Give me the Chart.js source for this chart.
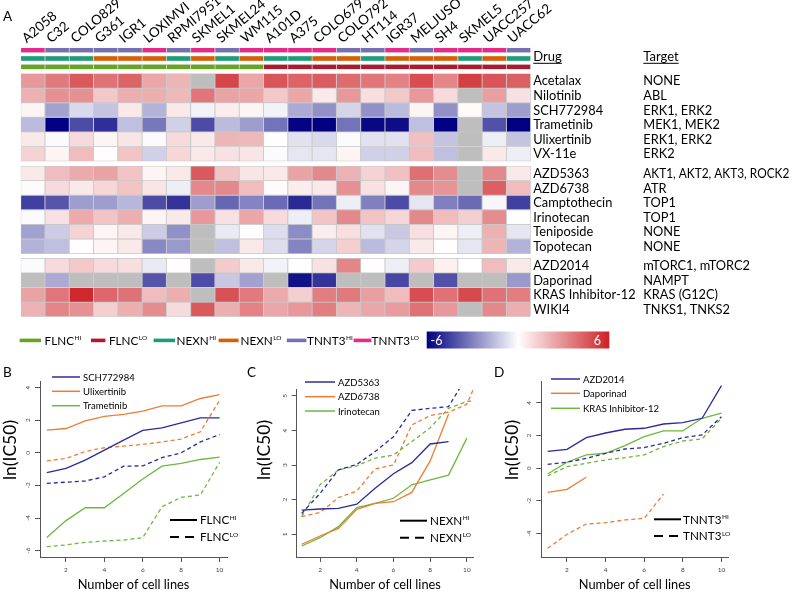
<!DOCTYPE html>
<html><head><meta charset="utf-8">
<script src="https://cdn.jsdelivr.net/npm/chart.js@4.4.1/dist/chart.umd.min.js"></script>
<style>
html,body{margin:0;padding:0;background:#fff;}
#wrap{position:relative;width:794px;height:592px;overflow:hidden;background:#fff;}
#wrap canvas{position:absolute;left:0;top:0;}
</style></head><body>
<div id="wrap">
<canvas id="heat" width="794" height="592"></canvas>
<canvas id="pb" width="794" height="592"></canvas>
<canvas id="pc" width="794" height="592"></canvas>
<canvas id="pd" width="794" height="592"></canvas>
</div>
<script>
// ---------------- DATA ----------------
const cellLines = ['A2058','C32','COLO829','G361','IGR1','LOXIMVI','RPMI7951','SKMEL1','SKMEL24','WM115','A101D','A375','COLO679','COLO792','HT114','IGR37','MELJUSO','SH4','SKMEL5','UACC257','UACC62'];
const tnnt3Status = ['LO','HI','HI','HI','HI','LO','HI','LO','HI','LO','LO','LO','LO','HI','HI','LO','HI','LO','LO','LO','HI'];
const nexnStatus  = ['HI','HI','HI','LO','LO','LO','HI','LO','HI','LO','HI','HI','LO','LO','HI','LO','LO','LO','HI','LO','HI'];
const flncStatus  = ['HI','HI','HI','HI','HI','HI','HI','HI','HI','HI','LO','LO','LO','LO','LO','LO','LO','LO','LO','LO','LO'];

const drugs = ['Acetalax','Nilotinib','SCH772984','Trametinib','Ulixertinib','VX-11e','AZD5363','AZD6738','Camptothecin','Irinotecan','Teniposide','Topotecan','AZD2014','Daporinad','KRAS Inhibitor-12','WIKI4'];
const targets = ['NONE','ABL','ERK1, ERK2','MEK1, MEK2','ERK1, ERK2','ERK2','AKT1, AKT2, AKT3, ROCK2','ATR','TOP1','TOP1','NONE','NONE','mTORC1, mTORC2','NAMPT','KRAS (G12C)','TNKS1, TNKS2'];

// heatmap values (ln IC50 scaled, -6..6), null = not available
const acetalax     = [2.8,3.6,4.5,3.8,4.2,2.4,2.0,null,5.0,2.4,4.6,4.2,4.4,4.0,3.7,3.4,4.8,3.3,5.2,4.6,4.3];
const nilotinib    = [2.1,3.0,3.0,1.5,2.2,2.2,1.9,3.7,2.5,2.4,1.5,2.4,0.6,2.8,0.9,1.5,2.8,1.0,null,2.6,0.8];
const sch772984    = [0.3,-2.2,-0.9,-1.4,0.6,-1.8,0.6,-0.3,0.5,0.3,-0.3,-2.0,-2.6,-1.0,-2.6,-1.6,0.3,-2.6,0.1,-1.4,-2.3];
const trametinib   = [-1.6,-6,-4.2,-4.9,-1.5,-3.2,-1.1,-4.2,-1.6,-2.3,-3.3,-5.9,-6,-3.3,-5.8,-5.7,-1.5,-6,null,-4.1,-6];
const ulixertinib  = [0.6,-0.1,1.0,0.3,0.7,-0.1,1.0,0.6,2.0,1.9,0.0,-0.7,-0.9,-0.1,-0.7,-0.7,1.7,-1.4,null,-0.4,-1.4];
const vx11e        = [1.2,0.3,1.8,0.05,1.6,-1.1,1.1,0.6,0.8,0.7,-0.1,-0.6,-0.6,0.3,-1.1,-1.1,1.8,-1.5,null,0.6,-0.4];
const azd5363      = [0.6,1.8,2.3,2.5,1.6,0.3,0.6,4.5,1.6,0.7,0.6,2.5,3.2,2.1,1.2,1.7,3.9,3.1,null,3.2,0.6];
const azd6738      = [0.1,1.0,0.6,1.1,1.6,0.7,-0.4,3.2,3.2,1.8,0.1,0.5,0.6,3.0,0.8,0.3,3.2,2.9,null,4.3,1.8];
const camptothecin = [-4.5,-4.0,-2.3,-2.3,-1.7,-4.2,-4.8,-2.3,-3.6,-2.9,-3.5,-5.0,-3.3,-0.4,-3.0,-4.2,-0.6,-3.0,-3.5,-0.2,-4.5];
const irinotecan   = [-0.1,0.8,2.3,1.6,2.2,0.3,0.6,2.8,0.8,2.4,1.0,-0.4,1.6,3.2,1.6,1.1,3.2,1.8,1.3,3.1,0.0];
const teniposide   = [-2.2,-1.2,1.2,0.3,0.6,-1.2,-2.6,null,-0.5,-0.05,-0.8,-2.7,0.5,0.9,-0.7,-1.3,0.9,0.3,-0.4,2.1,-0.6];
const topotecan    = [-1.8,-1.5,0.05,0.3,0.6,-2.8,-2.4,null,-1.5,0.6,-0.8,-2.9,-1.0,1.3,-1.6,-1.0,0.6,0.05,-0.6,2.0,-1.8];
const azd2014      = [-0.1,1.0,1.5,1.0,0.9,-0.5,0.05,null,1.4,0.6,-0.3,0.05,0.8,3.3,0.05,-0.4,1.4,0.4,0.0,1.8,0.6];
const daporinad    = [null,-2.0,null,null,null,-4.0,null,-4.2,-1.3,-2.2,null,-5.6,-4.8,null,null,-4.3,null,-4.1,null,null,-2.4];
const krasInh12    = [2.5,3.7,5.8,4.1,3.8,1.8,2.2,null,4.7,3.6,2.3,1.3,3.5,3.6,2.6,1.8,4.8,3.8,4.9,3.8,3.5];
const wiki4        = [2.1,3.3,3.0,1.3,2.2,3.1,1.0,4.5,2.2,3.4,2.4,2.8,3.5,2.0,2.4,2.7,3.8,2.8,null,3.2,2.2];

const xTickValues = [2,4,6,8,10];
// Panel B (FLNC)
const bSchHi  = [-1.22,-0.96,-0.45,0.16,0.78,1.37,1.53,1.84,2.14,2.14];
const bSchLo  = [-1.88,-1.80,-1.73,-1.47,-0.82,-0.80,-0.30,0.00,0.67,1.12];
const bUlixHi = [1.39,1.49,1.96,2.24,2.35,2.55,2.88,2.88,3.33,3.57];
const bUlixLo = [-0.49,-0.35,0.08,0.31,0.41,0.51,0.67,0.84,1.29,3.22];
const bTramHi = [-5.20,-4.16,-3.37,-3.37,-2.49,-1.61,-0.82,-0.65,-0.41,-0.27];
const bTramLo = [-5.76,-5.65,-5.49,-5.41,-5.35,-5.20,-3.31,-2.73,-2.59,-0.59];
const bYTicks = [-6,-4,-2,0,2,4];
// Panel C (NEXN)
const cAkHi  = [1.70,1.73,1.75,1.87,2.33,2.75,3.07,3.61,3.68];
const cAkLo  = [1.60,2.18,2.86,3.02,3.39,3.82,4.58,4.64,4.69,5.56,5.90];
const cAtrHi = [0.71,0.95,1.17,1.72,1.89,1.94,2.21,3.12,4.47];
const cAtrLo = [1.51,1.63,2.06,2.25,2.89,3.00,4.16,4.43,4.53,4.76,6.00];
const cIriHi = [0.66,0.90,1.22,1.77,1.89,2.04,2.43,2.57,2.71,3.78];
const cIriLo = [1.51,2.43,2.86,2.98,3.20,3.29,3.68,4.08,4.64,4.84,4.87];
const cYTicks = [1,2,3,4,5];
// Panel D (TNNT3)
const dMtorHi = [1.04,1.16,1.88,2.16,2.39,2.45,2.71,2.80,3.06,5.06];
const dMtorLo = [0.24,0.37,0.61,0.92,1.18,1.27,1.53,1.88,2.04,3.16];
const dDapHi  = [-1.47,-1.29,-0.55];
const dDapLo  = [-4.90,-4.04,-3.41,-3.33,-3.16,-3.06,-1.59];
const dKrasHi = [-0.35,0.37,0.82,0.92,1.39,1.94,2.29,2.29,3.06,3.37];
const dKrasLo = [-0.47,0.10,0.31,0.51,0.65,0.82,1.33,1.67,1.80,3.06];
const dYTicks = [-4,-2,0,2,4];

// ---------------- STYLE / LAYOUT ----------------
const FONT = 'Lato, "Open Sans", sans-serif';
Chart.defaults.font.family = FONT;
Chart.defaults.color = '#000';
const statusColors = {
  TNNT3:{HI:'#7570B3',LO:'#E7298A'},
  NEXN:{HI:'#1B9E77',LO:'#D95F02'},
  FLNC:{HI:'#66A61E',LO:'#B2182B'}
};
const SERIES_COLORS = ['#2b2b9b','#f07c34','#6db83e'];
function heatColor(v){
  if (v === null) return '#bebebe';
  const t = Math.min(Math.abs(v),6)/6;
  if (v < 0){ const c = Math.round(255*(1-t)); return `rgb(${c},${c},${Math.round(255-127*t)})`; }
  return `rgb(${Math.round(255-50*t)},${Math.round(255-222*t)},${Math.round(255-217*t)})`;
}
const ROW_H = 14.6, ANN_H = 5, ANN_STEP = 8.3;
function rowTop(i){
  if (i < 6) return 25.8 + i*ROW_H;
  if (i < 12) return 118.3 + (i-6)*ROW_H;
  return 210.6 + (i-12)*ROW_H;
}
const heatRows = [acetalax,nilotinib,sch772984,trametinib,ulixertinib,vx11e,azd5363,azd6738,camptothecin,irinotecan,teniposide,topotecan,azd2014,daporinad,krasInh12,wiki4];
const annotRows = [['TNNT3',tnnt3Status],['NEXN',nexnStatus],['FLNC',flncStatus]];

// ---------------- HEATMAP ----------------
const heatDatasets = [];
annotRows.forEach(([name,st],i)=>{
  heatDatasets.push({
    label:name,
    data: cellLines.map(()=>[i*ANN_STEP, i*ANN_STEP+ANN_H]),
    backgroundColor: st.map(s=>statusColors[name][s]),
    borderColor:'#dcdcdc', borderWidth:0.7, borderSkipped:false,
    grouped:false, barPercentage:1, categoryPercentage:1
  });
});
heatRows.forEach((vals,i)=>{
  const top = rowTop(i);
  heatDatasets.push({
    label:drugs[i],
    data: cellLines.map(()=>[top, top+ROW_H]),
    backgroundColor: vals.map(heatColor),
    borderColor:'#c8c8c8', borderWidth:0.8, borderSkipped:false,
    grouped:false, barPercentage:1, categoryPercentage:1
  });
});

function supText(ctx, x, y, base, sup, size, supSize){
  ctx.font = `${size}px ${FONT}`;
  ctx.fillText(base, x, y);
  const w = ctx.measureText(base).width;
  ctx.font = `${supSize}px ${FONT}`;
  ctx.fillText(sup, x + w + 0.5, y - size*0.38);
  return w + 0.5 + ctx.measureText(sup).width;
}

const heatExtras = {
  id:'heatExtras',
  afterDraw(chart){
    const ctx = chart.ctx, ys = chart.scales.y, xs = chart.scales.x;
    ctx.save();
    ctx.fillStyle = '#000';
    ctx.textBaseline = 'alphabetic';
    ctx.font = `13.5px ${FONT}`;
    ctx.fillText('A', 3, 21);
    // column labels (rotated 40 degrees)
    ctx.font = `13.5px ${FONT}`;
    cellLines.forEach((c,i)=>{
      const px = xs.getPixelForValue(i);
      ctx.save();
      ctx.translate(px - 6, 43.5);
      ctx.rotate(-40*Math.PI/180);
      ctx.fillText(c, 0, 0);
      ctx.restore();
    });
    // headers
    ctx.font = `13px ${FONT}`;
    ctx.fillText('Drug', 533.3, 60.5);
    let w = ctx.measureText('Drug').width;
    ctx.fillRect(533.3, 62.8, w, 1);
    ctx.fillText('Target', 643.3, 60.5);
    w = ctx.measureText('Target').width;
    ctx.fillRect(643.3, 62.8, w, 1);
    // drug / target labels
    ctx.textBaseline = 'middle';
    ctx.font = `12.8px ${FONT}`;
    drugs.forEach((d,i)=>{
      const yc = ys.getPixelForValue(rowTop(i)+ROW_H/2) + 0.5;
      ctx.fillText(d, 533.3, yc, 106);
      ctx.fillText(targets[i], 643.3, yc, 146);
    });
    // status legend
    const items = [
      ['FLNC','HI',19.6,41,44.6],['FLNC','LO',91,105.4,109],
      ['NEXN','HI',153.6,175,176.5],['NEXN','LO',218.6,238.6,240.5],
      ['TNNT3','HI',286.8,306.4,307],['TNNT3','LO',353.6,371.4,371.6]
    ];
    ctx.textBaseline = 'alphabetic';
    items.forEach(([n,s,x0,x1,tx])=>{
      ctx.fillStyle = statusColors[n][s];
      ctx.fillRect(x0, 338.6, x1-x0, 3.6);
      ctx.fillStyle = '#000';
      supText(ctx, tx, 344.8, n, s, 11.7, 6.5);
    });
    // colour bar
    const cx0 = 426.7, cx1 = 609.3, cy0 = 331.5, cy1 = 348.5;
    const g = ctx.createLinearGradient(cx0,0,cx1,0);
    for (let k=0;k<=12;k++){ g.addColorStop(k/12, heatColor(-6+k)); }
    ctx.fillStyle = g;
    ctx.fillRect(cx0, cy0, cx1-cx0, cy1-cy0);
    ctx.fillStyle = '#fff';
    ctx.font = `12.5px ${FONT}`;
    ctx.textBaseline = 'middle';
    ctx.textAlign = 'left';
    ctx.fillText('-6', 430.5, 340.5);
    ctx.textAlign = 'right';
    ctx.fillText('6', 601, 340.5);
    ctx.restore();
  }
};

new Chart(document.getElementById('heat'), {
  type:'bar',
  data:{ labels: cellLines, datasets: heatDatasets },
  options:{
    responsive:false, animation:false, events:[],
    layout:{ padding:{ left:20.7, right:263.3, top:0, bottom:275.3 } },
    plugins:{ legend:{display:false}, tooltip:{enabled:false} },
    scales:{
      x:{ type:'category', position:'top', offset:true,
          grid:{display:false, drawTicks:false}, border:{display:false},
          ticks:{ display:false },
          afterFit:(s)=>{ s.height = 47.7; } },
      y:{ type:'linear', min:0, max:269, reverse:true, display:false }
    }
  },
  plugins:[heatExtras]
});

// ---------------- LINE PANELS ----------------
function makePanel(id, cfg){
  const datasets = [];
  cfg.series.forEach((s,i)=>{
    datasets.push({ label:s.name+' HI', data:s.hi.map((v,k)=>({x:k+1,y:v})), borderColor:SERIES_COLORS[i], borderWidth:1.3, pointRadius:0, tension:0, fill:false });
    datasets.push({ label:s.name+' LO', data:s.lo.map((v,k)=>({x:k+1,y:v})), borderColor:SERIES_COLORS[i], borderWidth:1.3, borderDash:[4,3], pointRadius:0, tension:0, fill:false });
  });
  const axisGrid = { drawOnChartArea:false, drawTicks:true, tickLength:5, color:'#555', lineWidth:1 };
  const extras = {
    id:'extras'+id,
    afterDraw(chart){
      const ctx = chart.ctx, ca = chart.chartArea, ys = chart.scales.y;
      ctx.save();
      ctx.fillStyle = '#000';
      ctx.textBaseline = 'alphabetic';
      ctx.textAlign = 'left';
      ctx.font = `13.5px ${FONT}`;
      ctx.fillText(cfg.panel, cfg.panelX, 377);
      // rotated y tick labels
      ctx.fillStyle = '#444';
      ctx.font = `6.5px ${FONT}`;
      ctx.textAlign = 'center'; ctx.textBaseline = 'middle';
      cfg.yTicks.forEach(v=>{
        const py = ys.getPixelForValue(v);
        ctx.save(); ctx.translate(ca.left-12, py); ctx.rotate(-Math.PI/2);
        ctx.fillText(String(v), 0, 0); ctx.restore();
      });
      // axis titles
      ctx.fillStyle = '#000';
      ctx.font = `17.5px ${FONT}`;
      ctx.save(); ctx.translate(cfg.yTitleX, 450); ctx.rotate(-Math.PI/2);
      ctx.fillText('ln(IC50)', 0, 0); ctx.restore();
      ctx.font = `12.8px ${FONT}`;
      ctx.fillText('Number of cell lines', (ca.left+ca.right)/2, 584.5);
      // drug legend
      ctx.textAlign = 'left';
      ctx.font = `9.5px ${FONT}`;
      cfg.series.forEach((s,i)=>{
        const y = cfg.legYs[i];
        ctx.strokeStyle = SERIES_COLORS[i]; ctx.lineWidth = 1.5; ctx.setLineDash([]);
        ctx.beginPath(); ctx.moveTo(cfg.legX0, y); ctx.lineTo(cfg.legX1, y); ctx.stroke();
        ctx.fillText(s.name, cfg.legTX, y+0.5);
      });
      // HI / LO legend
      const h = cfg.hilo;
      ctx.strokeStyle = '#000'; ctx.lineWidth = 2;
      ctx.beginPath(); ctx.moveTo(h.x0, h.y1); ctx.lineTo(h.x1, h.y1); ctx.stroke();
      ctx.setLineDash([9,6]);
      ctx.beginPath(); ctx.moveTo(h.x0, h.y2); ctx.lineTo(h.x1+2, h.y2); ctx.stroke();
      ctx.setLineDash([]);
      ctx.textBaseline = 'alphabetic';
      supText(ctx, h.tx, h.y1+4.2, h.name, 'HI', 11.7, 6.5);
      supText(ctx, h.tx, h.y2+4.2, h.name, 'LO', 11.7, 6.5);
      ctx.restore();
    }
  };
  new Chart(document.getElementById(id), {
    type:'line',
    data:{ datasets },
    options:{
      responsive:false, animation:false, events:[],
      layout:{ padding:{ left:0, top:cfg.top, right:794-cfg.right, bottom:0 } },
      plugins:{ legend:{display:false}, tooltip:{enabled:false} },
      scales:{
        x:{ type:'linear', min:cfg.xmin, max:cfg.xmax,
            afterFit:(s)=>{ s.height = 592-cfg.bottom; },
            afterBuildTicks:(s)=>{ s.ticks = xTickValues.map(v=>({value:v})); },
            grid:axisGrid, border:{display:true,color:'#555',width:1},
            ticks:{ color:'#444', font:{family:FONT,size:6.5}, padding:4, maxRotation:0, autoSkip:false } },
        y:{ type:'linear', min:cfg.ymin, max:cfg.ymax,
            afterFit:(s)=>{ s.width = cfg.left; },
            afterBuildTicks:(s)=>{ s.ticks = cfg.yTicks.map(v=>({value:v})); },
            grid:axisGrid, border:{display:true,color:'#555',width:1},
            ticks:{ display:false } }
      }
    },
    plugins:[extras]
  });
}

makePanel('pb', {
  panel:'B', panelX:3, left:40, right:227, top:381.7, bottom:557,
  xmin:0.646, xmax:10.385, ymin:-6.39, ymax:4.36, yTicks:bYTicks, yTitleX:10,
  series:[{name:'SCH772984',hi:bSchHi,lo:bSchLo},{name:'Ulixertinib',hi:bUlixHi,lo:bUlixLo},{name:'Trametinib',hi:bTramHi,lo:bTramLo}],
  legX0:52, legX1:80, legTX:83, legYs:[377,391.3,405.7],
  hilo:{name:'FLNC', x0:170, x1:197, tx:200, y1:520, y2:537}
});
makePanel('pc', {
  panel:'C', panelX:247, left:296.7, right:473.3, top:389, bottom:557,
  xmin:0.728, xmax:10.35, ymin:0.342, ymax:5.2, yTicks:cYTicks, yTitleX:264,
  series:[{name:'AZD5363',hi:cAkHi,lo:cAkLo},{name:'AZD6738',hi:cAtrHi,lo:cAtrLo},{name:'Irinotecan',hi:cIriHi,lo:cIriLo}],
  legX0:305, legX1:335, legTX:338, legYs:[382,396.7,411],
  hilo:{name:'NEXN', x0:400, x1:427, tx:430, y1:520.7, y2:537.7}
});
makePanel('pd', {
  panel:'D', panelX:494, left:541.3, right:728, top:381.7, bottom:557,
  xmin:0.67, xmax:10.34, ymin:-5.43, ymax:5.3, yTicks:dYTicks, yTitleX:512,
  series:[{name:'AZD2014',hi:dMtorHi,lo:dMtorLo},{name:'Daporinad',hi:dDapHi,lo:dDapLo},{name:'KRAS Inhibitor-12',hi:dKrasHi,lo:dKrasLo}],
  legX0:551, legX1:580, legTX:583, legYs:[379,393.3,408.3],
  hilo:{name:'TNNT3', x0:654, x1:681, tx:683, y1:519.3, y2:536}
});
</script>
</body></html>
